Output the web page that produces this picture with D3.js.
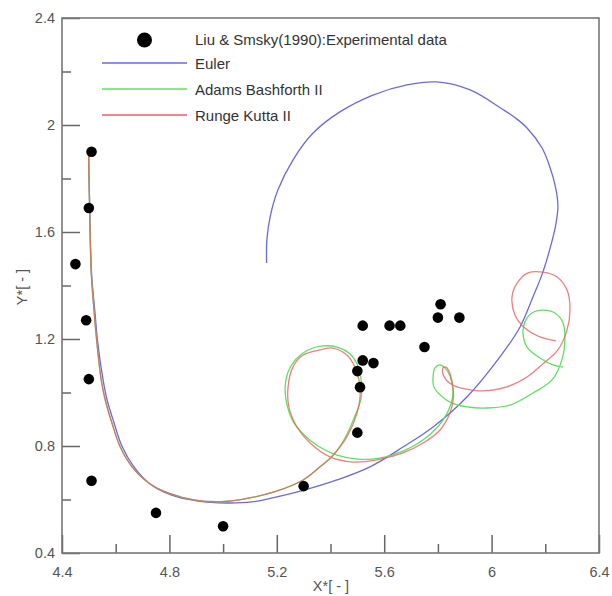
<!DOCTYPE html>
<html>
<head>
<meta charset="utf-8">
<script src="https://cdn.jsdelivr.net/npm/d3@7"></script>
<style>
  body { margin: 0; background: #fff; }
  text { font-family: "Liberation Sans", Arial, sans-serif; }
</style>
</head>
<body>
<div id="chart"></div>
<script>
const w = 612;
const h = 596;

// experimental points
var expX = [4.51,4.50,4.45,4.49,4.50,4.51,4.75,5.00,5.30,5.50,5.51,5.50,5.52,5.56,5.52,5.62,5.66,5.75,5.80,5.81,5.88];
var expY = [1.90,1.69,1.48,1.27,1.05,0.67,0.55,0.50,0.65,0.85,1.02,1.08,1.12,1.11,1.25,1.25,1.25,1.17,1.28,1.33,1.28];

// Euler
var eulerX = [4.499,4.503,4.510,4.523,4.532,4.553,4.568,4.594,4.623,4.668,4.728,4.806,4.907,5.011,5.108,5.175,5.298,5.424,5.547,5.670,5.782,5.908,6.031,6.106,6.154,6.191,6.221,6.238,6.247,6.238,6.217,6.188,6.132,6.088,6.042,5.920,5.797,5.685,5.558,5.435,5.335,5.260,5.204,5.175,5.163,5.162];
var eulerY = [1.895,1.693,1.447,1.297,1.196,1.047,0.972,0.886,0.800,0.722,0.658,0.617,0.594,0.587,0.591,0.604,0.634,0.673,0.722,0.796,0.871,0.983,1.133,1.245,1.357,1.450,1.551,1.622,1.697,1.768,1.843,1.914,1.989,2.027,2.058,2.131,2.161,2.150,2.112,2.049,1.970,1.869,1.757,1.656,1.570,1.484];

// Runge Kutta II
var rkX = [4.499,4.503,4.509,4.520,4.529,4.546,4.561,4.586,4.617,4.661,4.723,4.797,4.896,4.996,5.095,5.193,5.298,5.361,5.409,5.461,5.499,5.510,5.506,5.491,5.461,5.409,5.361,5.298,5.260,5.242,5.245,5.275,5.324,5.398,5.484,5.573,5.670,5.745,5.808,5.845,5.858,5.853,5.841,5.830,5.819,5.819,5.834,5.864,5.905,5.968,6.057,6.132,6.191,6.247,6.281,6.292,6.281,6.244,6.191,6.136,6.095,6.076,6.087,6.124,6.180,6.240];
var rkY = [1.895,1.693,1.447,1.297,1.196,1.047,0.972,0.886,0.796,0.722,0.662,0.624,0.598,0.592,0.605,0.629,0.673,0.722,0.766,0.834,0.923,0.983,1.047,1.095,1.140,1.166,1.159,1.140,1.095,1.021,0.946,0.871,0.811,0.759,0.740,0.748,0.774,0.811,0.860,0.923,0.983,1.039,1.080,1.095,1.092,1.069,1.043,1.024,1.013,1.006,1.021,1.058,1.107,1.159,1.234,1.308,1.383,1.432,1.450,1.447,1.409,1.357,1.290,1.241,1.208,1.193];

// Adams Bashforth II (same start as RK II)
var abX = rkX.slice(0,18).concat([5.409,5.454,5.491,5.514,5.514,5.499,5.469,5.424,5.372,5.316,5.272,5.242,5.231,5.238,5.260,5.298,5.353,5.424,5.502,5.584,5.670,5.759,5.819,5.849,5.856,5.845,5.826,5.808,5.789,5.782,5.785,5.808,5.845,5.908,5.983,6.069,6.154,6.225,6.262,6.273,6.266,6.236,6.191,6.150,6.124,6.117,6.132,6.180,6.229,6.266]);
var abY = rkY.slice(0,18).concat([0.763,0.830,0.912,0.979,1.047,1.107,1.148,1.170,1.174,1.159,1.125,1.077,1.017,0.953,0.893,0.845,0.800,0.766,0.751,0.755,0.781,0.834,0.897,0.957,1.009,1.062,1.092,1.103,1.092,1.058,1.021,0.991,0.964,0.946,0.942,0.953,0.998,1.047,1.122,1.196,1.260,1.297,1.308,1.297,1.264,1.222,1.170,1.129,1.103,1.095]);

var xMajor = [4.4,4.8,5.2,5.6,6,6.4];
var xMinor = [4.6,5.0,5.4,5.8,6.2];
var yMajor = [0.4,0.8,1.2,1.6,2,2.4];
var yMinor = [0.6,1.0,1.4,1.8,2.2];

var legendNames = ["Liu & Smsky(1990):Experimental data","Euler","Adams Bashforth II","Runge Kutta II"];
var lineColors = ["#6a6ae0","#5fe05f","#e86060"];

var svg = d3.select("#chart")
            .append("svg")
            .attr("width",w)
            .attr("height",h)
            .style("background","#fff");

var x = d3.scaleLinear().domain([4.4,6.4]).range([62,599]);
var y = d3.scaleLinear().domain([0.4,2.4]).range([553,18]);

// axes
svg.append("g")
   .attr("transform","translate(0,553)")
   .call(d3.axisBottom(x).tickValues(xMajor).tickFormat(d3.format("")).tickSizeInner(-18).tickSizeOuter(0).tickPadding(14));
svg.append("g")
   .attr("transform","translate(0,553)")
   .call(d3.axisBottom(x).tickValues(xMinor).tickFormat("").tickSizeInner(-9).tickSizeOuter(0));
svg.append("g")
   .attr("transform","translate(62,0)")
   .call(d3.axisLeft(y).tickValues(yMajor).tickFormat(d3.format("")).tickSizeInner(-18).tickSizeOuter(0).tickPadding(7));
svg.append("g")
   .attr("transform","translate(62,0)")
   .call(d3.axisLeft(y).tickValues(yMinor).tickFormat("").tickSizeInner(-9).tickSizeOuter(0));

svg.selectAll(".domain").remove();
svg.selectAll(".tick line").attr("stroke","#666").attr("stroke-width",1.5);
svg.selectAll(".tick text").attr("fill","#555").style("font-size","14.5px");

svg.append("rect")
   .attr("x",62).attr("y",18)
   .attr("width",537).attr("height",535)
   .attr("fill","none")
   .attr("stroke","#777")
   .attr("stroke-width",1.6);

svg.append("text")
   .attr("x",331).attr("y",591)
   .attr("text-anchor","middle")
   .attr("fill","#555")
   .style("font-size","14.5px")
   .text("X*[ - ]");
svg.append("text")
   .attr("transform","translate(27,287) rotate(-90)")
   .attr("text-anchor","middle")
   .attr("fill","#555")
   .style("font-size","14.5px")
   .text("Y*[ - ]");

// curves
var line = d3.line()
   .x((d)=>x(d[0]))
   .y((d)=>y(d[1]))
   .curve(d3.curveCatmullRom.alpha(0.5));

var series = [d3.zip(eulerX,eulerY), d3.zip(abX,abY), d3.zip(rkX,rkY)];

svg.append("g")
   .selectAll("path")
   .data(series)
   .enter()
   .append("path")
   .attr("d",line)
   .attr("fill","none")
   .attr("stroke",(d,i)=>lineColors[i])
   .attr("stroke-width",1.3)
   .attr("stroke-opacity",(d,i)=>i==2 ? 0.8 : 1);

// experimental data
svg.append("g")
   .selectAll("circle")
   .data(d3.zip(expX,expY))
   .enter()
   .append("circle")
   .attr("cx",(d)=>x(d[0]))
   .attr("cy",(d)=>y(d[1]))
   .attr("r",5.3)
   .attr("fill","#000");

// legend
var legend = svg.append("g");
legend.append("circle")
   .attr("cx",144.5).attr("cy",40).attr("r",7.5)
   .attr("fill","#000");
legend.selectAll("line")
   .data(lineColors)
   .enter()
   .append("line")
   .attr("x1",102).attr("x2",187)
   .attr("y1",(d,i)=>[63,89,115][i])
   .attr("y2",(d,i)=>[63,89,115][i])
   .attr("stroke",(d)=>d)
   .attr("stroke-width",1.4);
legend.selectAll("text")
   .data(legendNames)
   .enter()
   .append("text")
   .attr("x",195)
   .attr("y",(d,i)=>[40,64,90,116][i]+5)
   .attr("fill","#333")
   .style("font-size","15px")
   .text((d)=>d);
</script>
</body>
</html>
